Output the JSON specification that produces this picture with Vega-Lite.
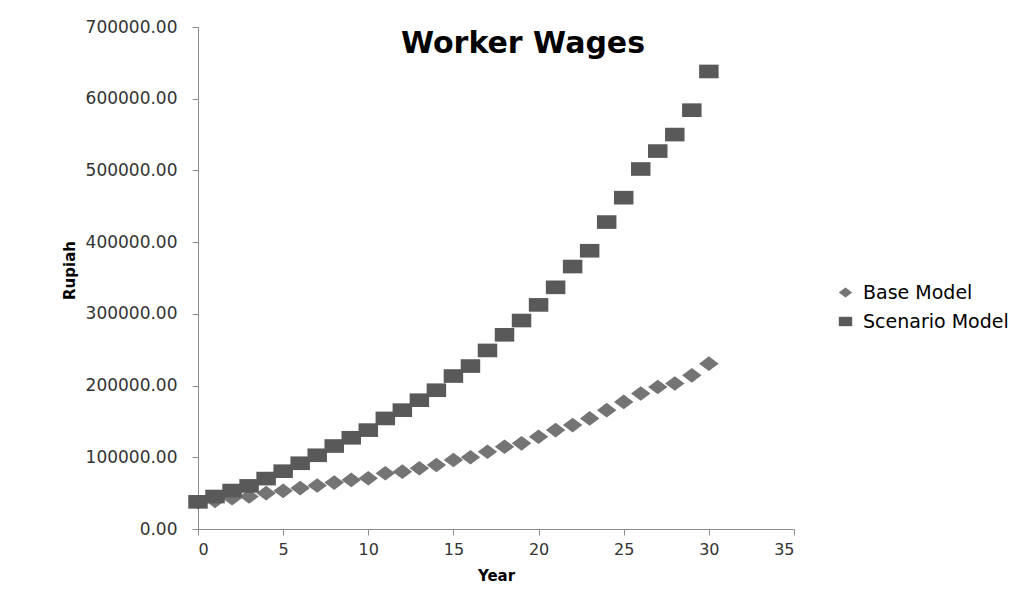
{
  "$schema": "https://vega.github.io/schema/vega-lite/v6.json",
  "width": 596,
  "height": 502,
  "autosize": {"type": "none"},
  "padding": {"left": 198, "top": 27, "right": 230, "bottom": 73},
  "background": "white",
  "title": {
    "text": "Worker Wages",
    "font": "DejaVu Sans",
    "fontSize": 30,
    "fontWeight": "bold",
    "color": "#000000",
    "anchor": "middle",
    "orient": "top",
    "offset": 0,
    "dx": 27,
    "dy": 41
  },
  "data": {
    "values": [
      {"Year": 0, "Series": "Base Model", "Rupiah": 37500},
      {"Year": 1, "Series": "Base Model", "Rupiah": 39300},
      {"Year": 2, "Series": "Base Model", "Rupiah": 43000},
      {"Year": 3, "Series": "Base Model", "Rupiah": 45300},
      {"Year": 4, "Series": "Base Model", "Rupiah": 50000},
      {"Year": 5, "Series": "Base Model", "Rupiah": 53200},
      {"Year": 6, "Series": "Base Model", "Rupiah": 57000},
      {"Year": 7, "Series": "Base Model", "Rupiah": 60600},
      {"Year": 8, "Series": "Base Model", "Rupiah": 64700},
      {"Year": 9, "Series": "Base Model", "Rupiah": 68500},
      {"Year": 10, "Series": "Base Model", "Rupiah": 70800},
      {"Year": 11, "Series": "Base Model", "Rupiah": 77800},
      {"Year": 12, "Series": "Base Model", "Rupiah": 80000},
      {"Year": 13, "Series": "Base Model", "Rupiah": 84700},
      {"Year": 14, "Series": "Base Model", "Rupiah": 89300},
      {"Year": 15, "Series": "Base Model", "Rupiah": 96300},
      {"Year": 16, "Series": "Base Model", "Rupiah": 100000},
      {"Year": 17, "Series": "Base Model", "Rupiah": 107800},
      {"Year": 18, "Series": "Base Model", "Rupiah": 114700},
      {"Year": 19, "Series": "Base Model", "Rupiah": 119400},
      {"Year": 20, "Series": "Base Model", "Rupiah": 128600},
      {"Year": 21, "Series": "Base Model", "Rupiah": 137900},
      {"Year": 22, "Series": "Base Model", "Rupiah": 144900},
      {"Year": 23, "Series": "Base Model", "Rupiah": 154200},
      {"Year": 24, "Series": "Base Model", "Rupiah": 165700},
      {"Year": 25, "Series": "Base Model", "Rupiah": 177200},
      {"Year": 26, "Series": "Base Model", "Rupiah": 188900},
      {"Year": 27, "Series": "Base Model", "Rupiah": 198000},
      {"Year": 28, "Series": "Base Model", "Rupiah": 202800},
      {"Year": 29, "Series": "Base Model", "Rupiah": 214300},
      {"Year": 30, "Series": "Base Model", "Rupiah": 230600},
      {"Year": 0, "Series": "Scenario Model", "Rupiah": 37900},
      {"Year": 1, "Series": "Scenario Model", "Rupiah": 45300},
      {"Year": 2, "Series": "Scenario Model", "Rupiah": 53600},
      {"Year": 3, "Series": "Scenario Model", "Rupiah": 60100},
      {"Year": 4, "Series": "Scenario Model", "Rupiah": 70300},
      {"Year": 5, "Series": "Scenario Model", "Rupiah": 80600},
      {"Year": 6, "Series": "Scenario Model", "Rupiah": 91700},
      {"Year": 7, "Series": "Scenario Model", "Rupiah": 102800},
      {"Year": 8, "Series": "Scenario Model", "Rupiah": 115700},
      {"Year": 9, "Series": "Scenario Model", "Rupiah": 127200},
      {"Year": 10, "Series": "Scenario Model", "Rupiah": 137900},
      {"Year": 11, "Series": "Scenario Model", "Rupiah": 154200},
      {"Year": 12, "Series": "Scenario Model", "Rupiah": 165700},
      {"Year": 13, "Series": "Scenario Model", "Rupiah": 179600},
      {"Year": 14, "Series": "Scenario Model", "Rupiah": 193500},
      {"Year": 15, "Series": "Scenario Model", "Rupiah": 213300},
      {"Year": 16, "Series": "Scenario Model", "Rupiah": 227200},
      {"Year": 17, "Series": "Scenario Model", "Rupiah": 249000},
      {"Year": 18, "Series": "Scenario Model", "Rupiah": 270800},
      {"Year": 19, "Series": "Scenario Model", "Rupiah": 290700},
      {"Year": 20, "Series": "Scenario Model", "Rupiah": 312500},
      {"Year": 21, "Series": "Scenario Model", "Rupiah": 337000},
      {"Year": 22, "Series": "Scenario Model", "Rupiah": 366000},
      {"Year": 23, "Series": "Scenario Model", "Rupiah": 388000},
      {"Year": 24, "Series": "Scenario Model", "Rupiah": 428000},
      {"Year": 25, "Series": "Scenario Model", "Rupiah": 462000},
      {"Year": 26, "Series": "Scenario Model", "Rupiah": 502000},
      {"Year": 27, "Series": "Scenario Model", "Rupiah": 527000},
      {"Year": 28, "Series": "Scenario Model", "Rupiah": 550000},
      {"Year": 29, "Series": "Scenario Model", "Rupiah": 584000},
      {"Year": 30, "Series": "Scenario Model", "Rupiah": 638000}
    ]
  },
  "mark": {"type": "point", "filled": true, "opacity": 1, "strokeWidth": 0},
  "encoding": {
    "x": {
      "field": "Year",
      "type": "quantitative",
      "scale": {"domain": [0, 35], "nice": false, "zero": true},
      "axis": {
        "title": "Year",
        "values": [0, 5, 10, 15, 20, 25, 30, 35],
        "grid": false,
        "domainColor": "#8c8c8c",
        "tickColor": "#8c8c8c",
        "tickSize": 6,
        "labelFont": "DejaVu Sans",
        "labelFontSize": 16,
        "labelColor": "#333333",
        "labelPadding": 6,
        "titleFont": "DejaVu Sans",
        "titleFontSize": 15,
        "titleFontWeight": "bold",
        "titleColor": "#000000",
        "titlePadding": 11
      }
    },
    "y": {
      "field": "Rupiah",
      "type": "quantitative",
      "scale": {"domain": [0, 700000], "nice": false},
      "axis": {
        "title": "Rupiah",
        "values": [0, 100000, 200000, 300000, 400000, 500000, 600000, 700000],
        "format": ".2f",
        "grid": false,
        "domainColor": "#8c8c8c",
        "tickColor": "#8c8c8c",
        "tickSize": 6,
        "labelFont": "DejaVu Sans",
        "labelFontSize": 17,
        "labelColor": "#333333",
        "labelPadding": 15,
        "titleFont": "DejaVu Sans",
        "titleFontSize": 15,
        "titleFontWeight": "bold",
        "titleColor": "#000000",
        "titlePadding": 8,
        "titleY": 243
      }
    },
    "shape": {
      "field": "Series",
      "type": "nominal",
      "scale": {
        "domain": ["Base Model", "Scenario Model"],
        "range": ["M0,-0.75L1,0L0,0.75L-1,0Z", "M-1,-0.7L1,-0.7L1,0.7L-1,0.7Z"]
      },
      "legend": {
        "title": null,
        "orient": "none",
        "legendX": 638,
        "legendY": 256,
        "labelFont": "DejaVu Sans",
        "labelFontSize": 19,
        "labelColor": "#000000",
        "symbolSize": 180,
        "rowPadding": 9,
        "labelOffset": 8,
        "symbolStrokeWidth": 0
      }
    },
    "color": {
      "field": "Series",
      "type": "nominal",
      "scale": {"domain": ["Base Model", "Scenario Model"], "range": ["#747474", "#595959"]},
      "legend": {
        "title": null,
        "orient": "none",
        "legendX": 638,
        "legendY": 256,
        "labelFont": "DejaVu Sans",
        "labelFontSize": 19,
        "labelColor": "#000000",
        "symbolSize": 180,
        "rowPadding": 9,
        "labelOffset": 8,
        "symbolStrokeWidth": 0
      }
    },
    "size": {"value": 380},
    "order": {"field": "Series", "sort": "ascending"}
  },
  "config": {"view": {"stroke": null}}
}
